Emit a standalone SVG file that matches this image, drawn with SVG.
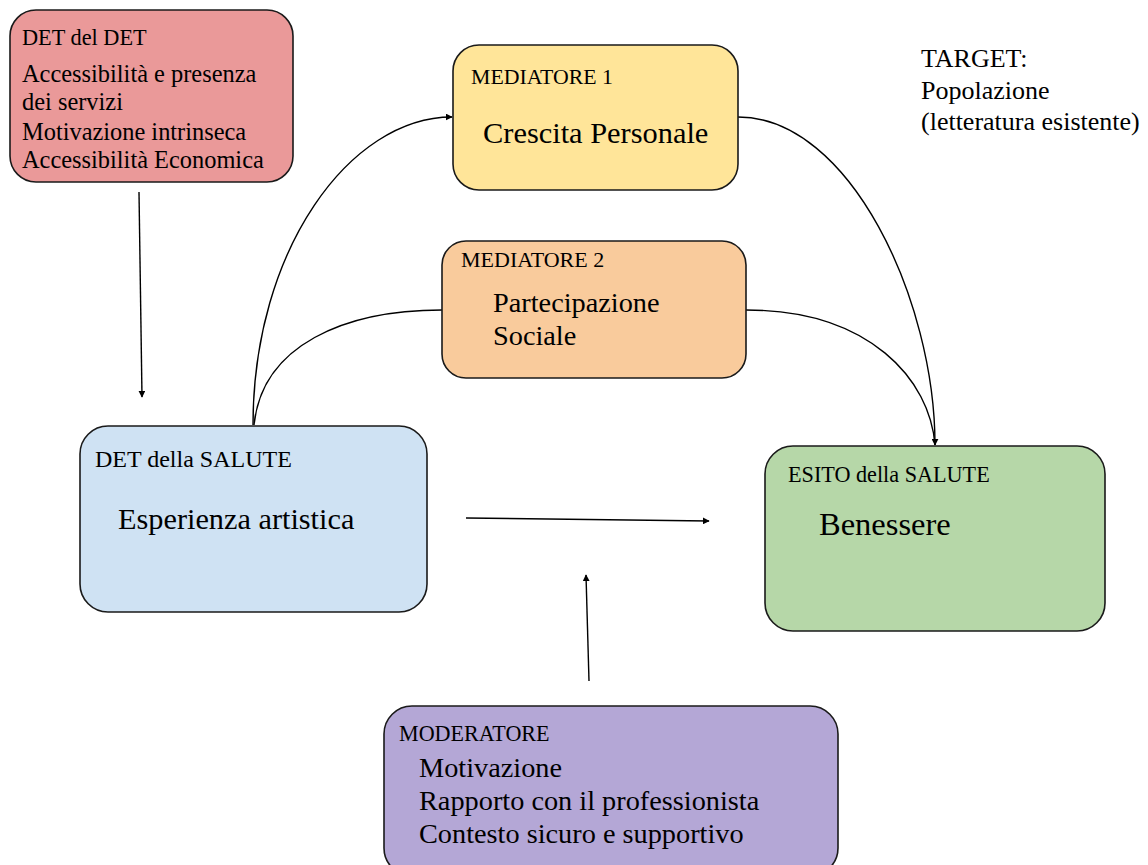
<svg xmlns="http://www.w3.org/2000/svg" width="1148" height="865" viewBox="0 0 1148 865">
<style>
.box{stroke:#1a1a1a;stroke-width:1.6}
.conn{fill:none;stroke:#000;stroke-width:1.4}
</style>
<defs>
<marker id="ah" viewBox="0 0 10 10" refX="9" refY="5" markerWidth="7" markerHeight="7" markerUnits="userSpaceOnUse" orient="auto">
<path d="M0,0 L10,5 L0,10 z" fill="#000"/>
</marker>
</defs>
<rect width="1148" height="865" fill="#fff"/>
<g id="connectors">
<path class="conn" d="M139,192 L142,397" marker-end="url(#ah)"/>
<path class="conn" d="M253,425 C253,250 350,117 452,117" marker-end="url(#ah)"/>
<path class="conn" d="M254,425 C262,345 345,310 442,310"/>
<path class="conn" d="M738,117 C850,117 935,300 935,445" marker-end="url(#ah)"/>
<path class="conn" d="M746,310 C870,310 930,380 935,445"/>
<path class="conn" d="M466,518 L709,521" marker-end="url(#ah)"/>
<path class="conn" d="M589,681 L586,575" marker-end="url(#ah)"/>
</g>
<g font-family="'Liberation Serif', 'Times New Roman', serif" fill="#000">
<g id="det-del-det">
<rect class="box" x="10" y="10" width="283" height="172" rx="26" fill="#ea9999"/>
<text x="22" y="45" font-size="22.3">DET del DET</text>
<text x="22" y="82" font-size="24.4">Accessibilità e presenza</text>
<text x="22" y="110" font-size="24.4">dei servizi</text>
<text x="22" y="140" font-size="24.4">Motivazione intrinseca</text>
<text x="22" y="168" font-size="24.4">Accessibilità Economica</text>
</g>
<g id="mediatore1">
<rect class="box" x="453" y="45" width="285" height="145" rx="26" fill="#ffe599"/>
<text x="471" y="84" font-size="21.8">MEDIATORE 1</text>
<text x="483" y="143" font-size="30.4">Crescita Personale</text>
</g>
<g id="mediatore2">
<rect class="box" x="442" y="241" width="304" height="137" rx="24" fill="#f9cb9c"/>
<text x="461" y="267" font-size="22">MEDIATORE 2</text>
<text x="493" y="312" font-size="28.3">Partecipazione</text>
<text x="493" y="345" font-size="28.3">Sociale</text>
</g>
<g id="det-salute">
<rect class="box" x="80" y="426" width="347" height="186" rx="28" fill="#cfe2f3"/>
<text x="95" y="467" font-size="24">DET della SALUTE</text>
<text x="118" y="529" font-size="30.3">Esperienza artistica</text>
</g>
<g id="esito">
<rect class="box" x="765" y="446" width="340" height="185" rx="28" fill="#b6d7a8"/>
<text x="788" y="482" font-size="22.2">ESITO della SALUTE</text>
<text x="819" y="535" font-size="32.5">Benessere</text>
</g>
<g id="moderatore">
<rect class="box" x="384" y="706" width="454" height="170" rx="28" fill="#b4a7d6"/>
<text x="399" y="741" font-size="22.1">MODERATORE</text>
<text x="419" y="777" font-size="28.3">Motivazione</text>
<text x="419" y="810" font-size="28.3">Rapporto con il professionista</text>
<text x="419" y="843" font-size="28.3">Contesto sicuro e supportivo</text>
</g>
<g id="target">
<text x="921" y="67" font-size="26">TARGET:</text>
<text x="921" y="99" font-size="26">Popolazione</text>
<text x="921" y="130" font-size="26">(letteratura esistente)</text>
</g>
</g>
</svg>
